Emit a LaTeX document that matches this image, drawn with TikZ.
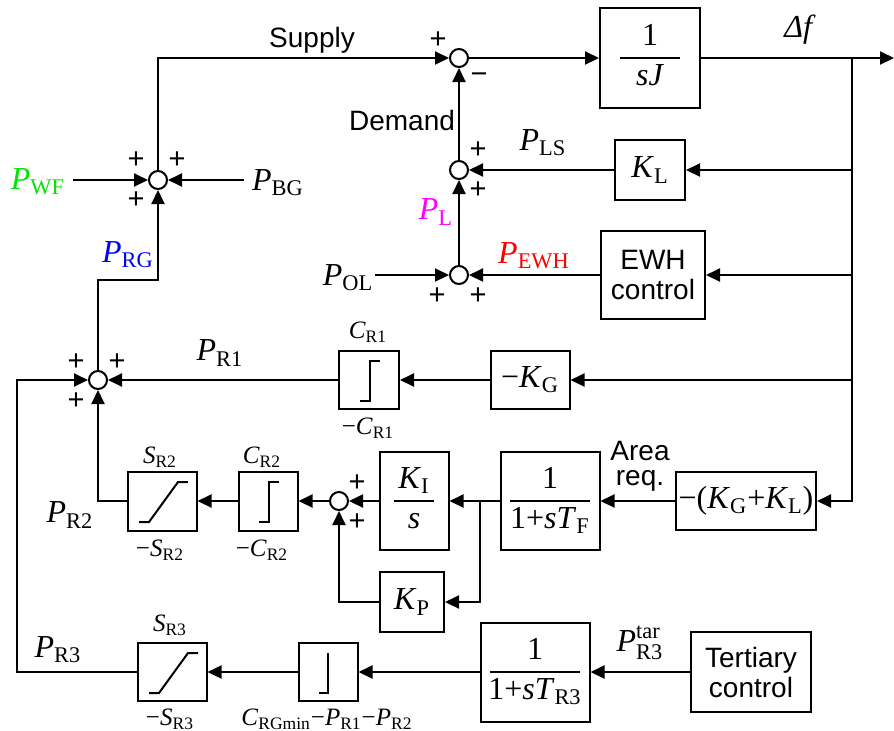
\documentclass[tikz,border=0pt]{standalone}
\usepackage{amsmath}
\usepackage{fontspec}
\setmainfont{Liberation Serif}
\setsansfont{Liberation Sans}
\usepackage{tikz}
\usetikzlibrary{arrows.meta,positioning}

\setlength{\arrayrulewidth}{1pt}
\newcommand{\sig}[2]{\textit{#1}\textsubscript{#2}}
\newcommand{\frc}[3]{\begin{tabular}{@{}c@{}}\makebox[#1]{#2}\\\hline\makebox[#1]{#3}\end{tabular}}
\definecolor{wfgreen}{RGB}{0,230,0}
\definecolor{rgblue}{RGB}{0,0,255}
\definecolor{plmag}{RGB}{255,0,255}
\definecolor{ewhred}{RGB}{255,0,0}

\begin{document}
\begin{tikzpicture}[x=0.5pt,y=-0.5pt,line width=1pt,
    >={Triangle[length=7pt,width=6.5pt]},
    font=\fontsize{16}{19}\selectfont,
    sumnode/.style={circle,draw,minimum size=9pt,inner sep=0pt},
    blk/.style={draw,inner sep=0pt,align=center},
    txt/.style={font=\sffamily\fontsize{14}{15}\selectfont,align=center,inner sep=0pt},
    sgn/.style={font=\sffamily\fontsize{14.5}{14}\selectfont,inner sep=0pt},
    lmt/.style={font=\fontsize{12.5}{13}\selectfont,inner sep=0pt},
    lbl/.style={inner sep=0pt}]
    \useasboundingbox (0,0) rectangle (894,730);

    % Summing points
    \node[sumnode] (s1) at (459,58) {};
    \node[sumnode] (s2) at (459,170) {};
    \node[sumnode] (s3) at (459,275) {};
    \node[sumnode] (sg) at (158,180) {};
    \node[sumnode] (sr) at (98,380) {};
    \node[sumnode] (s4) at (339,501) {};

    % Blocks
    \node[blk,minimum width=50pt,minimum height=50pt] (sj) at (650,58) {\frc{30pt}{1}{\textit{sJ}}};
    \node[blk,minimum width=35pt,minimum height=30pt] (kl) at (650,170) {\sig{K}{L}};
    \node[blk,txt,minimum width=52pt,minimum height=44pt] (ewh) at (653,275) {EWH\\control};
    \node[blk,minimum width=30pt,minimum height=29pt] (lim1) at (369,380) {};
    \node[blk,minimum width=39.5pt,minimum height=29pt] (kg) at (530,380) {−\sig{K}{G}};
    \node[blk,minimum width=70pt,minimum height=29pt] (kgl) at (746,501) {−(\sig{K}{G}+\sig{K}{L})};
    \node[blk,minimum width=49.5pt,minimum height=49pt] (tf) at (550,501) {\frc{40pt}{1}{1+\textit{s}\sig{T}{F}}};
    \node[blk,minimum width=34.5pt,minimum height=49pt] (ki) at (414,501) {\frc{20pt}{\sig{K}{I}}{\textit{s}}};
    \node[blk,minimum width=32pt,minimum height=30pt] (kp) at (412,602) {\sig{K}{P}};
    \node[blk,minimum width=29.5pt,minimum height=29.5pt] (lim2) at (268,501) {};
    \node[blk,minimum width=34.5pt,minimum height=29.5pt] (rmp2) at (162,501) {};
    \node[blk,txt,minimum width=60pt,minimum height=40pt] (ter) at (751,672) {Tertiary\\control};
    \node[blk,minimum width=54.5pt,minimum height=49.5pt] (tr3) at (535,672) {\frc{45pt}{1}{1+\textit{s}\sig{T}{R3}}};
    \node[blk,minimum width=29.5pt,minimum height=29pt] (lim3) at (328,672) {};
    \node[blk,minimum width=34.5pt,minimum height=29pt] (rmp3) at (172,672) {};

    % Limiter and ramp symbols
    \foreach \b in {lim1,lim2}
        \draw[shift={(\b.center)}] (-9,21) -- (1,21) -- (1,-19) -- (11,-19);
    \draw[shift={(lim3.center)}] (-9,21) -- (0,21) -- (0,-19);
    \foreach \b in {rmp2,rmp3}
        \draw[shift={(\b.center)}] (-23,21) -- (-13,21) -- (16,-19) -- (26,-19);

    % Free ends
    \coordinate (fout) at (894,58);
    \coordinate (tap) at (852,58);
    \coordinate (pol) at (375,275);
    \coordinate (pwf) at (73,180);
    \coordinate (pbg) at (244,180);
    \coordinate (rgk) at (98,280);
    \coordinate (br) at (480,501);
    \coordinate (lft) at (17,672);

    % Connectors
    \draw[->] (s1) -- (sj);
    \draw[->] (sj) -- (fout);
    \draw[->] (tap) |- (kgl);
    \draw[->] (tap |- kl) -- (kl);
    \draw[->] (tap |- ewh) -- (ewh);
    \draw[->] (tap |- kg) -- (kg);
    \draw[->] (kl) -- (s2);
    \draw[->] (ewh) -- (s3);
    \draw[->] (s3) -- (s2);
    \draw[->] (s2) -- (s1);
    \draw[->] (pol) -- (s3);
    \draw[->] (sg) |- (s1);
    \draw[->] (pwf) -- (sg);
    \draw[->] (pbg) -- (sg);
    \draw[->] (sr) -- (rgk) -| (sg);
    \draw[->] (kg) -- (lim1);
    \draw[->] (lim1) -- (sr);
    \draw[->] (kgl) -- (tf);
    \draw[->] (tf) -- (ki);
    \draw[->] (br) |- (kp);
    \draw[->] (ki) -- (s4);
    \draw[->] (kp) -| (s4);
    \draw[->] (s4) -- (lim2);
    \draw[->] (lim2) -- (rmp2);
    \draw[->] (rmp2) -| (sr);
    \draw[->] (ter) -- (tr3);
    \draw[->] (tr3) -- (lim3);
    \draw[->] (lim3) -- (rmp3);
    \draw[->] (rmp3) -- (lft) |- (sr);

    % Signs
    \node[sgn] (g1) at (438,40) {+};
    \node[sgn] (g2) at (479,78) {−};
    \node[sgn] (g3) at (478,150) {+};
    \node[sgn] (g4) at (478,190) {+};
    \node[sgn] (g5) at (437,296) {+};
    \node[sgn] (g6) at (478,296) {+};
    \node[sgn] (g7) at (136,160) {+};
    \node[sgn] (g8) at (177,160) {+};
    \node[sgn] (g9) at (136,200) {+};
    \node[sgn] (g10) at (76,362) {+};
    \node[sgn] (g11) at (117,362) {+};
    \node[sgn] (g12) at (76,401) {+};
    \node[sgn] (g13) at (357,483) {+};
    \node[sgn] (g14) at (357,522) {+};

    % Signal labels
    \node[txt] (lsup) at (312,40) {Supply};
    \node[txt] (ldem) at (402,120) {Demand};
    \node[txt,font=\sffamily\fontsize{14}{12.5}\selectfont] (lare) at (640,466) {Area\\req.};
    \node[lbl] (ldf) at (800,30) {\textit{Δf}};
    \node[lbl] (lpls) at (543,143) {\sig{P}{LS}};
    \node[lbl,text=plmag] (lpl) at (436,212) {\sig{P}{L}};
    \node[lbl,text=ewhred] (lpewh) at (534,256) {\sig{P}{EWH}};
    \node[lbl] (lpol) at (348,278) {\sig{P}{OL}};
    \node[lbl,text=wfgreen] (lpwf) at (38,182) {\sig{P}{WF}};
    \node[lbl] (lpbg) at (278,183) {\sig{P}{BG}};
    \node[lbl,text=rgblue] (lprg) at (128,255) {\sig{P}{RG}};
    \node[lbl] (lpr1) at (220,353) {\sig{P}{R1}};
    \node[lbl] (lpr2) at (70,515) {\sig{P}{R2}};
    \node[lbl] (lpr3) at (58,650) {\sig{P}{R3}};
    \node[lbl] (lptar) at (640,643) {$\textit{P}^{\text{tar}}_{\text{R3}}$};

    % Limits
    \node[lmt] (lcr1) at (368,332) {\sig{C}{R1}};
    \node[lmt] (lncr1) at (368,428) {−\sig{C}{R1}};
    \node[lmt] (lsr2) at (160,457) {\sig{S}{R2}};
    \node[lmt] (lnsr2) at (160,550) {−\sig{S}{R2}};
    \node[lmt] (lcr2) at (262,457) {\sig{C}{R2}};
    \node[lmt] (lncr2) at (262,550) {−\sig{C}{R2}};
    \node[lmt] (lsr3) at (170,625) {\sig{S}{R3}};
    \node[lmt] (lnsr3) at (170,719) {−\sig{S}{R3}};
    \node[lmt] (lcrg) at (327,719) {\sig{C}{RGmin}−\sig{P}{R1}−\sig{P}{R2}};
\end{tikzpicture}
\end{document}
